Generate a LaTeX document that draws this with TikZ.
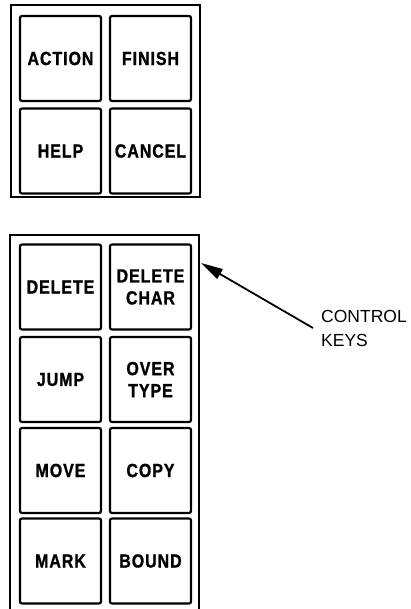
\documentclass[tikz,border=0pt]{standalone}
\usepackage{fontspec}
\setmainfont{Liberation Sans}
\newfontfamily\keyfont[FakeStretch=0.84,LetterSpace=5,FakeBold=1.2]{Liberation Sans Bold}
\usetikzlibrary{arrows.meta}

\tikzset{
  panel/.style={draw, line width=2.6pt, inner sep=0pt},
  key/.style={draw, line width=2.2pt, rounded corners=2pt, inner sep=0pt,
              minimum width=81pt, minimum height=85pt, align=center,
              font=\keyfont\fontsize{19}{22}\selectfont},
}

\begin{document}
\begin{tikzpicture}[x=1pt,y=-1pt]
  \useasboundingbox (0,0) rectangle (411,609);

  % upper group
  \node[panel, minimum width=189pt, minimum height=192pt] (upper) at (105.5,101) {};
  \node[key] (action) at (60.5,58.5) {ACTION};
  \node[key] (finish) at (150.5,58.5) {FINISH};
  \node[key] (help)   at (60.5,151)  {HELP};
  \node[key] (cancel) at (150.5,151) {CANCEL};

  % lower group, runs off the bottom
  \node[panel, minimum width=189pt, minimum height=380pt] (lower) at (104.5,425) {};
  \node[key] (delete)  at (60.5,287)   {DELETE};
  \node[key] (delchar) at (150.5,287)  {DELETE\\CHAR};
  \node[key] (jump)    at (60.5,379.5) {JUMP};
  \node[key] (over)    at (150.5,379.5){OVER\\TYPE};
  \node[key] (move)    at (60.5,470.5) {MOVE};
  \node[key] (copy)    at (150.5,470.5){COPY};
  \node[key] (mark)    at (60.5,561)   {MARK};
  \node[key] (bound)   at (150.5,561)  {BOUND};

  % label and pointer
  \node[anchor=north west, align=left, inner sep=0pt,
        font=\fontsize{17.5}{24}\selectfont] (ctl) at (321,310) {CONTROL\\KEYS};
  \coordinate (tail) at (313,328);
  \coordinate (tip) at (201,263);
  \draw[line width=1.8pt, -{Triangle[length=22pt,width=11pt]}] (tail) -- (tip);
\end{tikzpicture}
\end{document}
